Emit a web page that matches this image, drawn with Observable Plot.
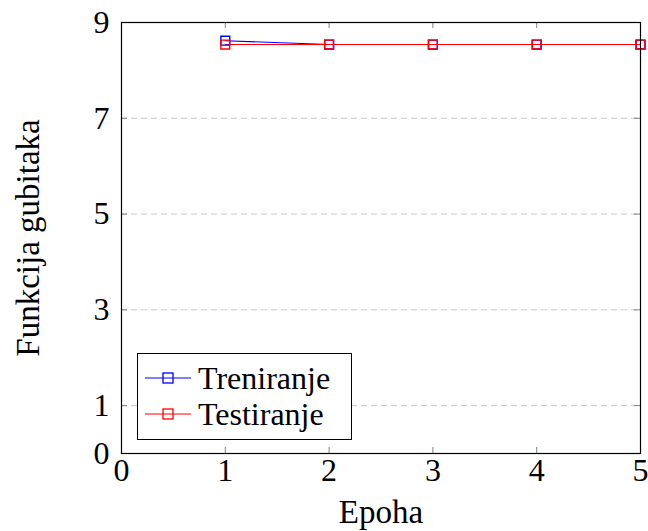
<!DOCTYPE html>
<html>
<head>
<meta charset="utf-8">
<script src="https://cdn.jsdelivr.net/npm/d3@7"></script>
<script src="https://cdn.jsdelivr.net/npm/@observablehq/plot@0.6"></script>
<style>
  html, body { margin: 0; padding: 0; background: #fff; }
  #wrap { position: relative; width: 648px; height: 531px; font-family: "Liberation Serif", "DejaVu Serif", serif; }
  #legend { position: absolute; left: 137px; top: 353px; width: 215px; height: 87px; border: 1px solid #000; background: #fff; box-sizing: border-box; }
  .row { position: absolute; left: 0; height: 40px; display: flex; align-items: center; font-size: 32px; color: #000; white-space: nowrap; }
  .row svg { margin-left: 7px; margin-right: 7px; }
</style>
</head>
<body>
<div id="wrap"></div>
<script>
const epochs = [1, 2, 3, 4, 5];
const trainLoss = [8.62, 8.54, 8.54, 8.54, 8.54];
const testLoss = [8.54, 8.54, 8.54, 8.54, 8.54];
const seriesNames = ["Treniranje", "Testiranje"];
const seriesColors = ["#0000ff", "#ff0000"];
const xTicks = [0, 1, 2, 3, 4, 5];
const yTicks = [0, 1, 3, 5, 7, 9];
const gridTicks = [1, 3, 5, 7];

const data = [
  ...epochs.map((e, i) => ({epoch: e, loss: trainLoss[i], series: seriesNames[0]})),
  ...epochs.map((e, i) => ({epoch: e, loss: testLoss[i], series: seriesNames[1]}))
];

const tickLen = 6 / 47.9;
const xTickLen = 6 / 103.8;

const font = "'Liberation Serif', 'DejaVu Serif', serif";

const chart = Plot.plot({
  width: 648,
  height: 531,
  marginLeft: 121,
  marginRight: 8,
  marginTop: 22,
  marginBottom: 78,
  style: {fontFamily: font, fontSize: "31px", background: "#fff", color: "#000"},
  x: {domain: [0, 5]},
  y: {domain: [0, 9]},
  color: {domain: seriesNames, range: seriesColors},
  marks: [
    Plot.ruleY(gridTicks, {y: d => d, stroke: "#c8c8c8", strokeDasharray: "6,4", strokeWidth: 1}),
    Plot.ruleX(xTicks, {x: d => d, y1: 0, y2: tickLen, stroke: "#808080"}),
    Plot.ruleX(xTicks, {x: d => d, y1: 9, y2: 9 - tickLen, stroke: "#808080"}),
    Plot.ruleY(yTicks, {y: d => d, x1: 0, x2: xTickLen, stroke: "#808080"}),
    Plot.ruleY(yTicks, {y: d => d, x1: 5, x2: 5 - xTickLen, stroke: "#808080"}),
    Plot.axisX(xTicks, {tickSize: 0, tickPadding: 5, fontSize: 32, label: null}),
    Plot.axisY(yTicks, {tickSize: 0, tickPadding: 12, fontSize: 32, label: null}),
    Plot.line(data, {x: "epoch", y: "loss", stroke: "series", strokeWidth: 1.1}),
    Plot.dot(data, {x: "epoch", y: "loss", stroke: "series", symbol: "square", r: 5, strokeWidth: 1.4, fill: "none"}),
    Plot.frame({stroke: "#000", strokeWidth: 1.2}),
    Plot.text(["Epoha"], {frameAnchor: "bottom", dy: 69, text: d => d, fontSize: 33}),
    Plot.text(["Funkcija gubitaka"], {frameAnchor: "left", dx: -93, rotate: -90, textAnchor: "middle", lineAnchor: "middle", text: d => d, fontSize: 33})
  ]
});

const wrap = document.getElementById("wrap");
wrap.appendChild(chart);

const legend = document.createElement("div");
legend.id = "legend";
seriesNames.forEach((name, i) => {
  const row = document.createElement("div");
  row.className = "row";
  row.style.top = (i === 0 ? 4 : 40) + "px";
  row.innerHTML = `<svg width="46" height="20"><line x1="0" y1="10" x2="46" y2="10" stroke="${seriesColors[i]}" stroke-width="1"/><rect x="18" y="5" width="10" height="10" fill="none" stroke="${seriesColors[i]}" stroke-width="1.3"/></svg><span>${name}</span>`;
  legend.appendChild(row);
});
wrap.appendChild(legend);
</script>
</body>
</html>
